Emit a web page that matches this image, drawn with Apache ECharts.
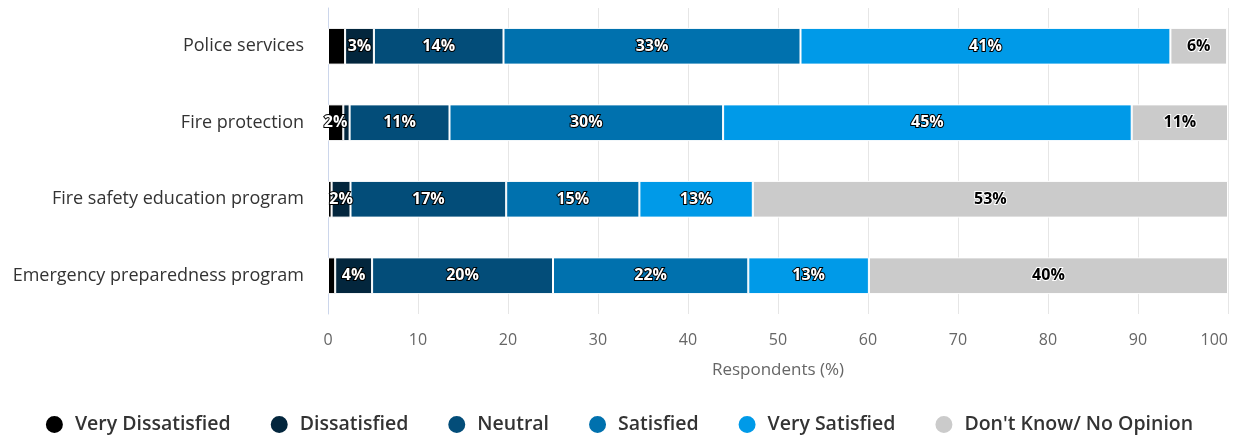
<!DOCTYPE html>
<html>
<head>
    <meta charset="utf-8" />
    <title>Satisfaction with services</title>
    <script src="https://cdn.jsdelivr.net/npm/echarts@6/dist/echarts.min.js"></script>
    <style>
        html, body { margin: 0; padding: 0; background: #fff; }
        #chart { width: 1237px; height: 442px; }
    </style>
</head>
<body>
<div id="chart"></div>
<script>
    // categories, top to bottom
    var categories = ['Police services', 'Fire protection', 'Fire safety education program', 'Emergency preparedness program'];

    // respondents (%) per answer, same order as categories
    var veryDissatisfied = [1.9, 1.7, 0.4, 0.8];
    var dissatisfied     = [3.2, 0.7, 2.1, 4.1];
    var neutral          = [14.4, 11.1, 17.3, 20.1];
    var satisfied        = [33.0, 30.4, 14.8, 21.7];
    var verySatisfied    = [41.1, 45.4, 12.6, 13.4];
    var dontKnow         = [6.3, 10.7, 52.8, 39.9];

    // labels the original leaves out (too narrow / overlapping): [series, category]
    var hiddenLabels = [[0, 0], [1, 1], [0, 2], [0, 3]];

    var seriesNames = ['Very Dissatisfied', 'Dissatisfied', 'Neutral', 'Satisfied', 'Very Satisfied', "Don't Know/ No Opinion"];
    var seriesData = [veryDissatisfied, dissatisfied, neutral, satisfied, verySatisfied, dontKnow];
    var colors = ['#000000', '#03263d', '#034d79', '#0071ae', '#009ae8', '#cbcbcb'];

    function isHidden(s, c) {
        for (var i = 0; i < hiddenLabels.length; i++) {
            if (hiddenLabels[i][0] == s && hiddenLabels[i][1] == c) return true;
        }
        return false;
    }

    var series = seriesNames.map(function (name, s) {
        var light = s == 5;
        return {
            name: name,
            type: 'bar',
            stack: 'total',
            barWidth: '48%',
            data: seriesData[s].map(function (v, c) {
                return { value: v, label: { show: !isHidden(s, c) } };
            }),
            itemStyle: { color: colors[s], borderColor: '#ffffff', borderWidth: 1 },
            label: {
                show: true,
                position: 'inside',
                formatter: function (p) { return Math.round(p.value) + '%'; },
                color: light ? '#000000' : '#ffffff',
                textBorderColor: light ? '#ffffff' : '#000000',
                textBorderWidth: 2,
                fontFamily: 'Open Sans',
                fontWeight: 'bold',
                fontSize: 16
            }
        };
    });

    var option = {
        animation: false,
        color: colors,
        grid: { left: 328, right: 9, top: 8, bottom: 128, containLabel: false, outerBoundsMode: 'none' },
        xAxis: {
            type: 'value',
            min: 0,
            max: 100,
            interval: 10,
            name: 'Respondents (%)',
            nameLocation: 'middle',
            nameGap: 48,
            nameTextStyle: { color: '#666666', fontSize: 17, fontFamily: 'Open Sans' },
            axisLine: { show: false },
            axisTick: { show: false },
            axisLabel: { color: '#666666', fontSize: 16, fontFamily: 'Open Sans', margin: 18, alignMaxLabel: 'right' },
            splitLine: { lineStyle: { color: '#e6e6e6', width: 1 } }
        },
        yAxis: {
            type: 'category',
            inverse: true,
            data: categories,
            axisLine: { show: true, lineStyle: { color: '#ccd6eb' } },
            axisTick: { show: false },
            axisLabel: { color: '#333333', fontSize: 18, fontFamily: 'Open Sans', margin: 24 }
        },
        legend: {
            bottom: 2,
            left: 'center',
            icon: 'circle',
            itemWidth: 19,
            itemHeight: 19,
            itemGap: 38,
            textStyle: { color: '#333333', fontSize: 19.5, fontWeight: 600, fontFamily: 'Open Sans', padding: [0, 0, 0, 6] },
            data: seriesNames
        },
        series: series
    };

    var myChart = echarts.init(document.getElementById('chart'));
    myChart.setOption(option);
</script>
</body>
</html>
